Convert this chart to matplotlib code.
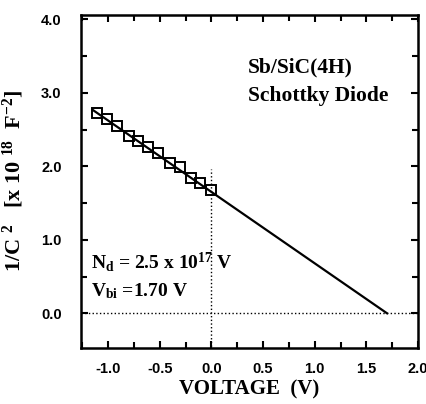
import matplotlib
matplotlib.use("Agg")
from matplotlib import pyplot as plt
from matplotlib.ticker import MultipleLocator, FormatStrFormatter
import numpy as np

# measured C-V data (1/C^2 vs bias)
voltage = [-1.11, -1.01, -0.91, -0.80, -0.71, -0.61, -0.52, -0.40, -0.30, -0.20, -0.11, 0.0]
invC2 = [2.73, 2.65, 2.55, 2.41, 2.35, 2.26, 2.18, 2.04, 1.99, 1.84, 1.77, 1.68]

# linear fit extended to the intercept
fitV = [-1.15, 1.70]
fitY = [2.77, 0.0]

vbi = 1.70
vline_top = 1.96

plt.rcParams['axes.unicode_minus'] = False
plt.rcParams['mathtext.fontset'] = 'custom'
plt.rcParams['mathtext.rm'] = 'Liberation Serif:bold'
plt.rcParams['mathtext.it'] = 'Liberation Serif:bold'
plt.rcParams['mathtext.bf'] = 'Liberation Serif:bold'

fig = plt.figure(figsize=(4.27, 4.04), dpi=100)
ax = fig.add_axes([0.190, 0.139, 0.789, 0.824])

ax.plot(fitV, fitY, '-', color='k', lw=1.6)
ax.plot(voltage, invC2, 's', mfc='none', mec='k', mew=1.4, ms=6.5)
ax.axhline(0.0, color='k', ls=':', lw=1.0)
ax.plot([0, 0], [-0.5, vline_top], color='k', ls=':', lw=1.0)

ax.set_xlim(-1.26, 2.0)
ax.set_ylim(-0.47, 4.06)
ax.xaxis.set_major_locator(MultipleLocator(0.5))
ax.xaxis.set_minor_locator(MultipleLocator(0.25))
ax.yaxis.set_major_locator(MultipleLocator(1.0))
ax.yaxis.set_minor_locator(MultipleLocator(0.5))
ax.xaxis.set_major_formatter(FormatStrFormatter('%.1f'))
ax.yaxis.set_major_formatter(FormatStrFormatter('%.1f'))
ax.tick_params(which='both', direction='in', top=True, right=True, width=1.5)
ax.tick_params(which='major', length=5)
ax.tick_params(which='minor', length=4)
ax.tick_params(axis='x', pad=10)
ax.tick_params(axis='y', pad=14)
ax.set_xticks([-1.0, -0.5, 0.0, 0.5, 1.0, 1.5, 2.0])
ax.set_yticks([0.0, 1.0, 2.0, 3.0, 4.0])
for lab in ax.get_xticklabels() + ax.get_yticklabels():
    lab.set_fontfamily('Liberation Sans')
    lab.set_fontweight('bold')
    lab.set_fontsize(10.5)
for sp in ax.spines.values():
    sp.set_linewidth(1.8)

serif = dict(family='Liberation Serif', fontweight='bold')
ax.set_xlabel('VOLTAGE  (V)', fontsize=15, **serif)
ax.set_ylabel(r'1/C $^{2}$   [x 10 $^{18}$  F$^{-2}$]', fontsize=16, **serif)
ax.xaxis.set_label_coords(0.5, -0.096)
ax.yaxis.set_label_coords(-0.163, 0.5)

ax.text(0.35, 3.34, 'Sb/SiC(4H)', fontsize=15.5, va='center', **serif)
ax.text(0.35, 2.96, 'Schottky Diode', fontsize=15.5, va='center', **serif)
ax.text(-1.16, 0.70, r'N$_{d}$ = 2.5 x 10$^{17}$ V', fontsize=14, va='center', **serif)
ax.text(-1.16, 0.30, r'V$_{bi}$ =%.2f V' % vbi, fontsize=14, va='center', **serif)

fig.savefig('out.png', dpi=100)
